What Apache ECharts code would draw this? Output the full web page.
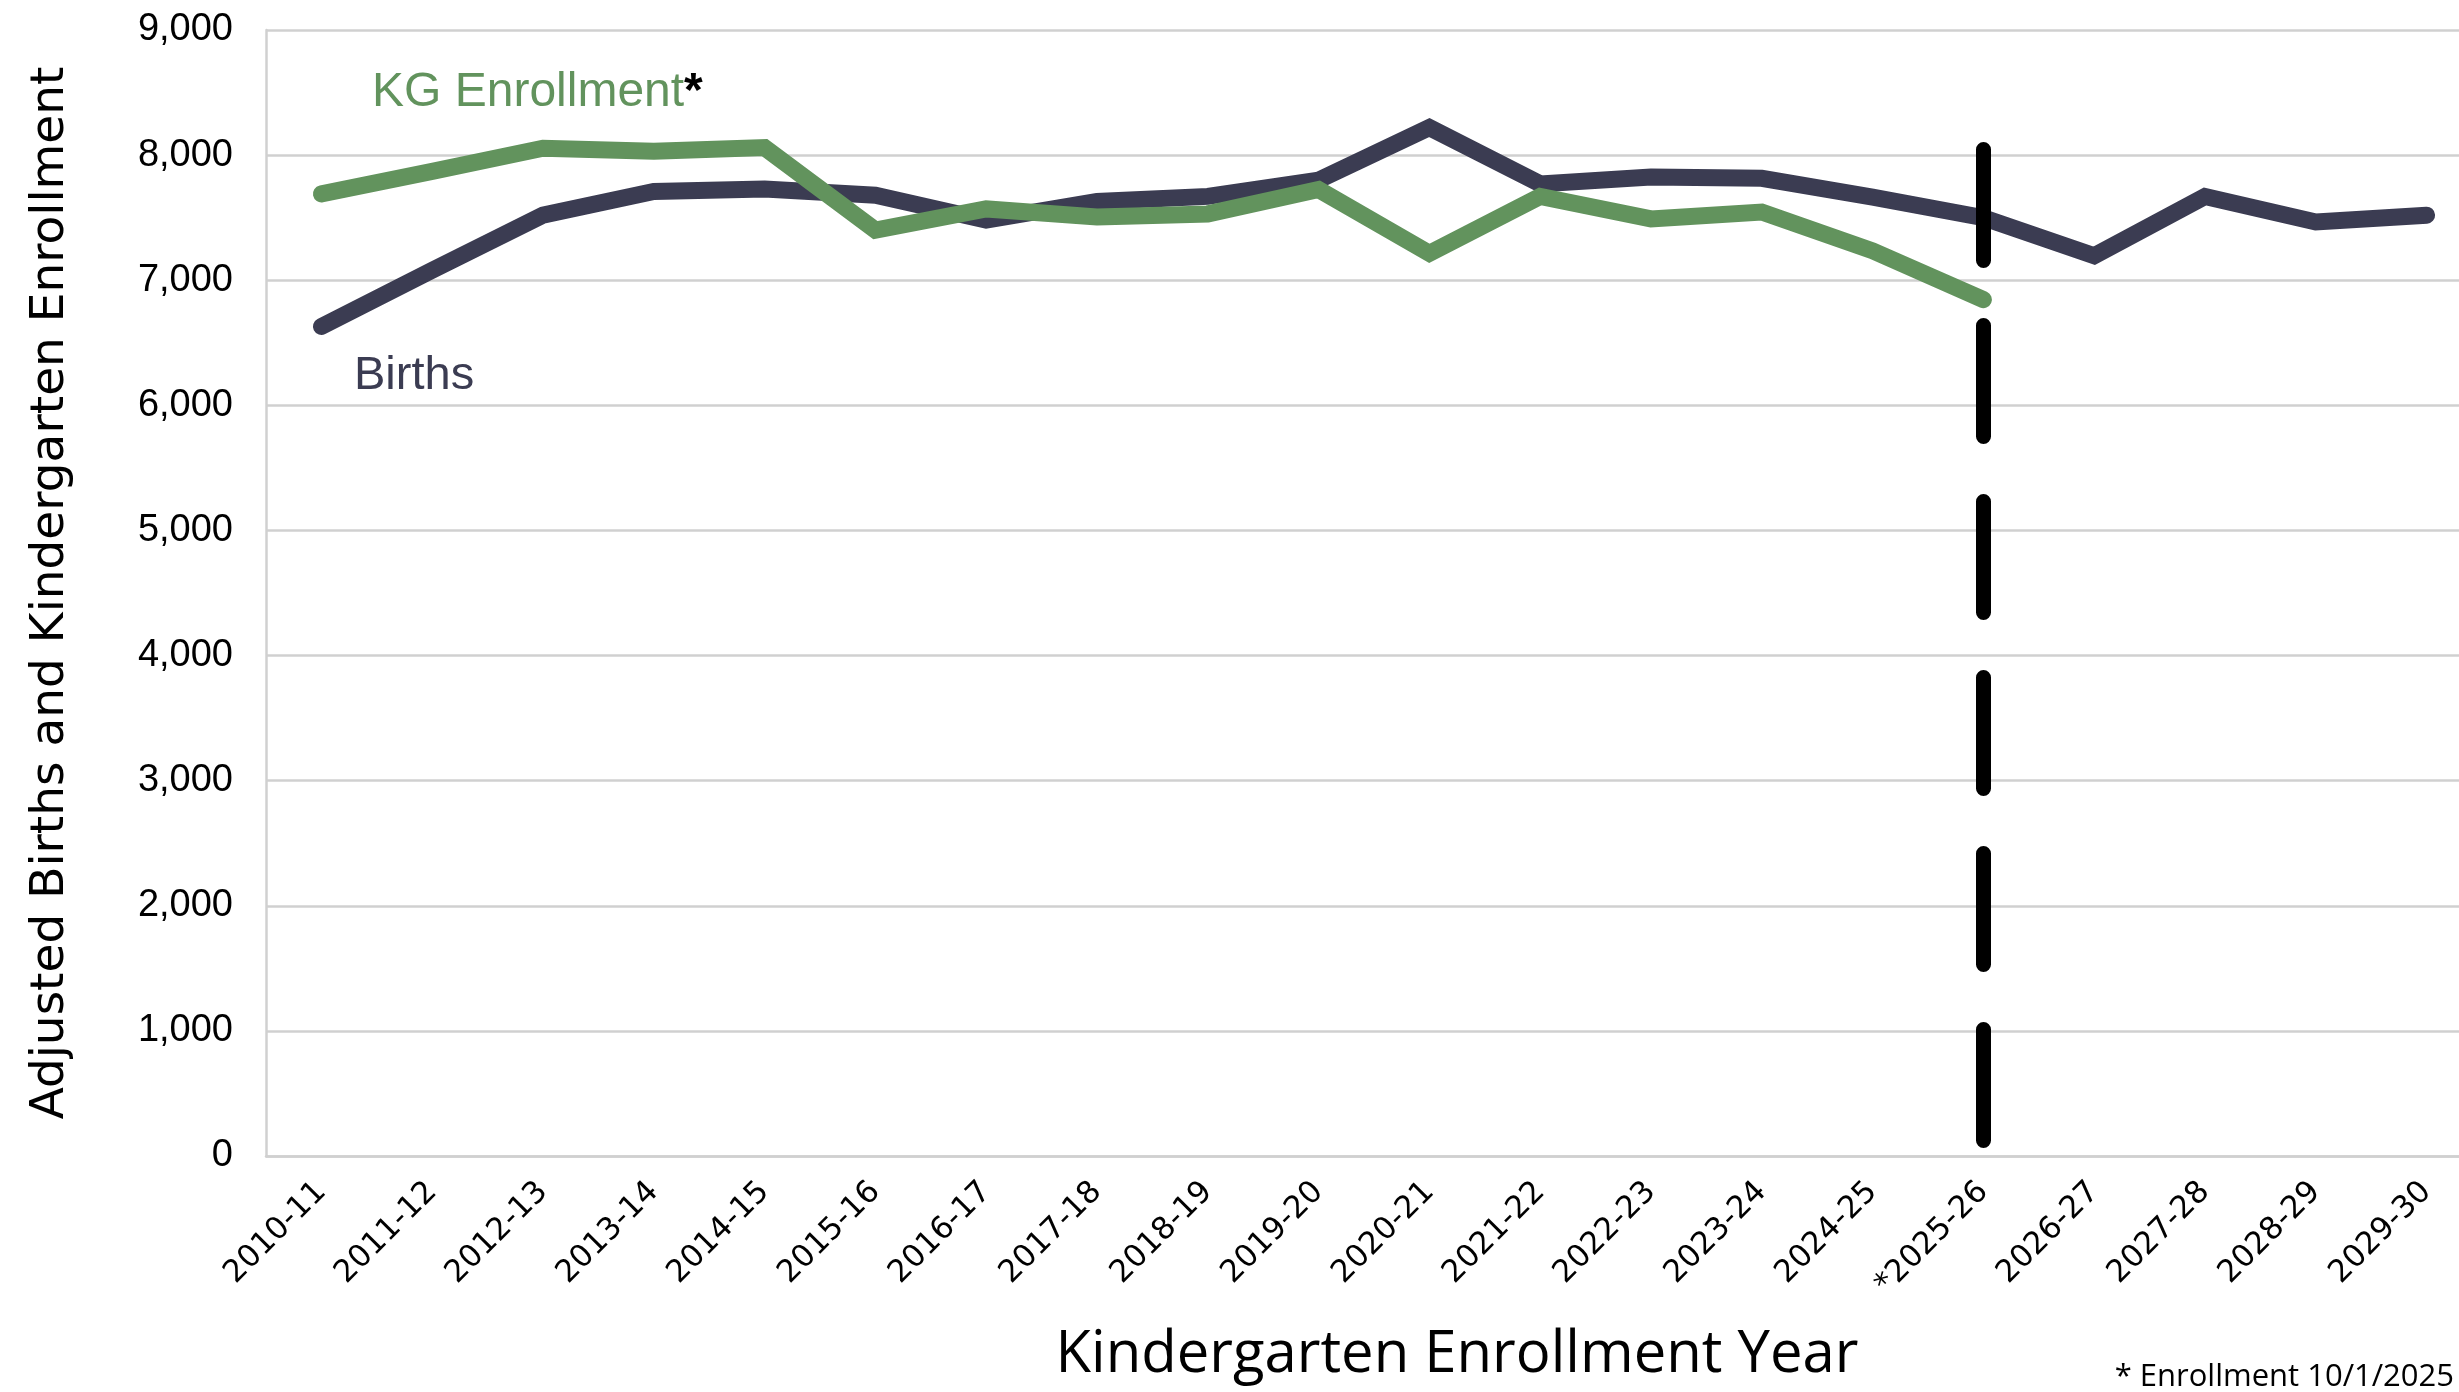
<!DOCTYPE html>
<html>
<head>
<meta charset="utf-8">
<script src="https://cdn.jsdelivr.net/npm/echarts@6/dist/echarts.min.js"></script>
<style>
html,body{margin:0;padding:0;background:#fff;}
#chart{width:2459px;height:1392px;}
</style>
</head>
<body>
<div id="chart"></div>
<script>
const categories = ['2010-11','2011-12','2012-13','2013-14','2014-15','2015-16','2016-17','2017-18','2018-19','2019-20','2020-21','2021-22','2022-23','2023-24','2024-25','*2025-26','2026-27','2027-28','2028-29','2029-30'];
const births = [6630, 7080, 7520, 7710, 7730, 7680, 7480, 7630, 7670, 7800, 8220, 7770, 7825, 7815, 7665, 7500, 7195, 7670, 7465, 7520];
const kgEnrollment = [7690, 7870, 8055, 8030, 8060, 7400, 7570, 7505, 7530, 7725, 7215, 7670, 7490, 7545, 7235, 6845, null, null, null, null];
const yMin = 0, yMax = 9000, yInterval = 1000;
const cutoffCategory = '*2025-26';
const cutoffLineTop = 8045;

const chart = echarts.init(document.getElementById('chart'));
chart.setOption({
  animation: false,
  backgroundColor: '#ffffff',
  grid: { left: 266, top: 30, width: 2216, height: 1126, containLabel: false, outerBoundsMode: 'none' },
  xAxis: {
    type: 'category',
    data: categories,
    boundaryGap: true,
    axisLine: { show: true, lineStyle: { color: '#d0d0d0', width: 2.5 } },
    axisTick: { show: false },
    axisLabel: { interval: 0, rotate: 45, margin: 31, color: '#000', fontFamily: 'DejaVu Sans', fontSize: 31 },
    splitLine: { show: false }
  },
  yAxis: {
    type: 'value',
    min: yMin, max: yMax, interval: yInterval,
    name: 'Adjusted Births and Kindergarten Enrollment',
    nameLocation: 'middle',
    nameGap: 192,
    nameTextStyle: { fontFamily: 'DejaVu Sans', fontSize: 47, color: '#000' },
    axisLine: { show: true, lineStyle: { color: '#d0d0d0', width: 2.5 } },
    axisTick: { show: false },
    axisLabel: { margin: 33, color: '#000', fontFamily: 'Liberation Sans', fontSize: 38,
      formatter: v => v.toLocaleString('en-US') },
    splitLine: { show: true, lineStyle: { color: '#d0d0d0', width: 2.5 } }
  },
  series: [
    {
      name: 'Births', type: 'line', data: births,
      showSymbol: false, symbol: 'none',
      lineStyle: { color: '#3B3C52', width: 17, cap: 'round', join: 'miter' },
      markLine: {
        silent: true, symbol: ['none','none'], label: { show: false },
        lineStyle: { color: '#000', width: 15, type: [111, 65], dashOffset: 160.5, cap: 'round' },
        data: [[{ xAxis: cutoffCategory, yAxis: yMin }, { xAxis: cutoffCategory, yAxis: cutoffLineTop }]]
      },
      z: 2
    },
    {
      name: 'KG Enrollment', type: 'line', data: kgEnrollment,
      showSymbol: false, symbol: 'none', connectNulls: false,
      lineStyle: { color: '#62935D', width: 17, cap: 'round', join: 'miter' },
      z: 3
    }
  ],
  graphic: [
    { type: 'text', x: 372, y: 93, style: {
        text: '{g|KG Enrollment}{s|*}', verticalAlign: 'middle', align: 'left',
        rich: {
          g: { fontFamily: 'Liberation Sans', fontSize: 48, fill: '#62935D' },
          s: { fontFamily: 'Liberation Sans', fontSize: 48, fill: '#000', fontWeight: 'bold' }
        } } },
    { type: 'text', x: 354, y: 376, style: { text: 'Births', fontFamily: 'Liberation Sans', fontSize: 47, fill: '#3B3C52', verticalAlign: 'middle', align: 'left' } },
    { type: 'text', x: 1457, y: 1355, style: { text: 'Kindergarten Enrollment Year', fontFamily: 'Open Sans', fontSize: 58, fill: '#000', align: 'center', verticalAlign: 'middle' } },
    { type: 'text', x: 2454, y: 1377, style: { text: '* Enrollment 10/1/2025', fontFamily: 'Open Sans', fontSize: 31, fill: '#000', align: 'right', verticalAlign: 'middle' } }
  ]
});
</script>
</body>
</html>
